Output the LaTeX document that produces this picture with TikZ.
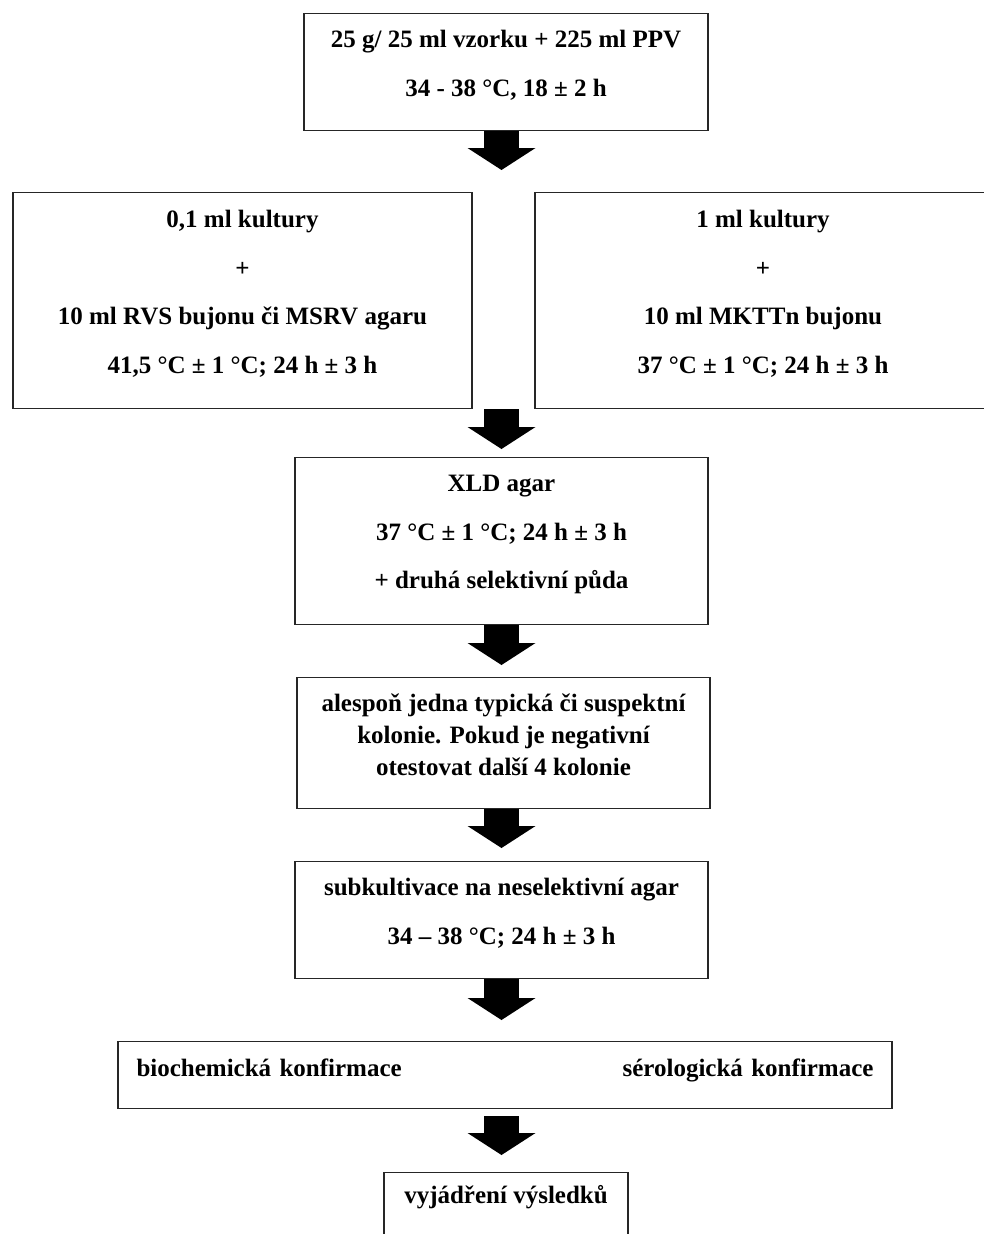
\documentclass[tikz,border=0pt]{standalone}
\usepackage{fontspec}
\setmainfont{Liberation Serif}
\usepackage{tikz}
\usetikzlibrary{arrows.meta,positioning}
\tikzset{
  flow-box/.style={draw=black!85, fill=white, line width=1.3pt, align=center,
    font=\fontsize{25}{48.5}\selectfont\bfseries, inner sep=0pt, anchor=north,
    text depth=18pt},
  flow-arrow/.style={line width=35pt,
    -{Triangle[width=68pt, length=22pt, line width=0pt]}}
}

\begin{document}
\begin{tikzpicture}[x=1pt, y=-1pt]
  \clip (0,0) rectangle (984,1234);
  \fill[white] (0,0) rectangle (984,1234);
  \node[flow-box, minimum width=404pt, minimum height=117pt] (ppv) at (506,13)
    {25 g/ 25 ml vzorku + 225 ml PPV\\34 - 38 °C, 18 ± 2 h};
  \node[flow-box, minimum width=459pt, minimum height=216pt] (rvs) at (242.5,192)
    {0,1 ml kultury\\+\\10 ml RVS bujonu či MSRV agaru\\41,5 °C ± 1 °C; 24 h ± 3 h};
  \node[flow-box, minimum width=456pt, minimum height=216pt] (mktt) at (763,192)
    {1 ml kultury\\+\\10 ml MKTTn bujonu\\37 °C ± 1 °C; 24 h ± 3 h};
  \node[flow-box, minimum width=413pt, minimum height=167pt] (xld) at (501.5,457)
    {XLD agar\\37 °C ± 1 °C; 24 h ± 3 h\\+ druhá selektivní půda};
  \node[flow-box, minimum width=413pt, minimum height=131pt, text depth=16pt,
    font=\fontsize{25}{32}\selectfont\bfseries] (kolonie) at (503.5,677)
    {alespoň jedna typická či suspektní\\kolonie. Pokud je negativní\\otestovat další 4 kolonie};
  \node[flow-box, minimum width=413pt, minimum height=117pt] (subkult) at (501.5,861)
    {subkultivace na neselektivní agar\\34 – 38 °C; 24 h ± 3 h};
  \node[flow-box, minimum width=774pt, minimum height=67pt, text width=737pt,
    align=left, text depth=14pt] (konf) at (505,1041)
    {biochemická konfirmace\hfill sérologická konfirmace};
  \node[flow-box, minimum width=244pt, minimum height=100pt, text depth=56pt] (vysl) at (506,1172)
    {vyjádření výsledků};
  % block arrows between the steps
  \draw[flow-arrow] (ppv.south -| xld.north) -- ([yshift=22pt]rvs.north -| xld.north);
  \draw[flow-arrow] (rvs.south -| xld.north) -- ([yshift=8pt]xld.north);
  \draw[flow-arrow] (xld.south) -- ([yshift=12pt]kolonie.north -| xld.south);
  \draw[flow-arrow] (kolonie.south -| xld.south) -- ([yshift=13pt]subkult.north);
  \draw[flow-arrow] (subkult.south) -- ([yshift=21pt]konf.north -| subkult.south);
  \draw[flow-arrow] ([yshift=-7pt]konf.south -| subkult.south) -- ([yshift=17pt]vysl.north -| subkult.south);
\end{tikzpicture}
\end{document}
